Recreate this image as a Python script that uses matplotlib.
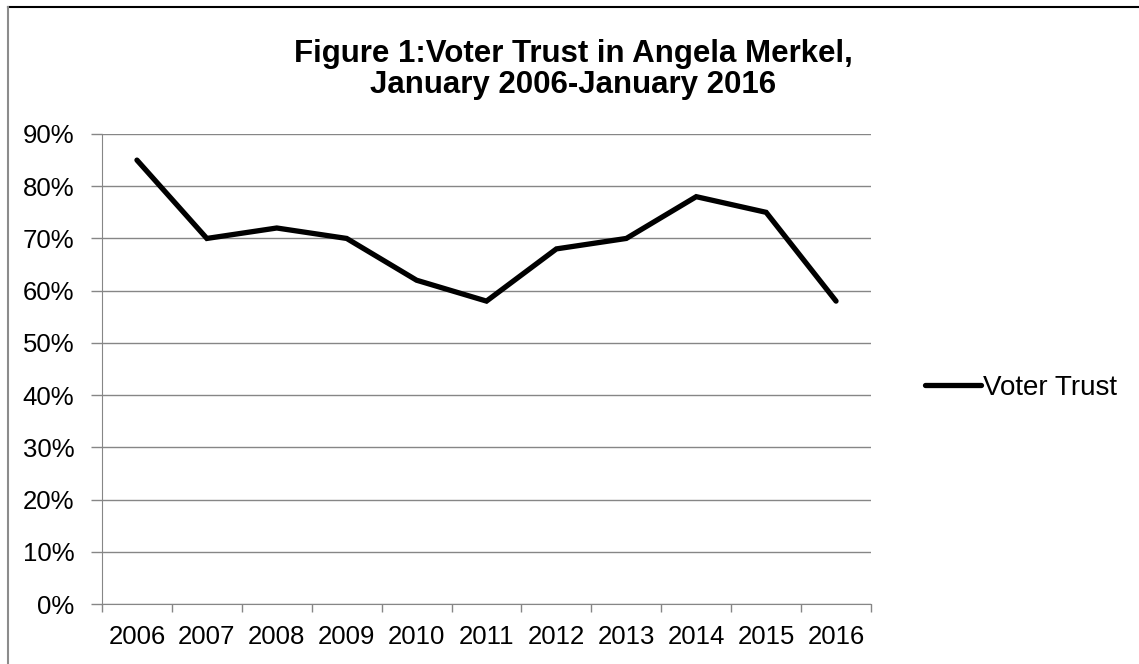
import matplotlib
matplotlib.use("Agg")
import matplotlib.pyplot as plt
from matplotlib.ticker import FixedLocator, FuncFormatter
from matplotlib.lines import Line2D

years = ["2006", "2007", "2008", "2009", "2010", "2011", "2012", "2013", "2014", "2015", "2016"]
trust = [0.85, 0.70, 0.72, 0.70, 0.62, 0.58, 0.68, 0.70, 0.78, 0.75, 0.58]
y_ticks = [0.0, 0.1, 0.2, 0.3, 0.4, 0.5, 0.6, 0.7, 0.8, 0.9]
title_lines = ["Figure 1:Voter Trust in Angela Merkel,", "January 2006-January 2016"]
series_name = "Voter Trust"

plt.rcParams['font.family'] = ['Liberation Sans', 'DejaVu Sans']

W, H = 1139, 664
fig = plt.figure(figsize=(W / 100, H / 100), dpi=100)
fig.patch.set_facecolor("white")

# outer chart frame (top and left visible)
fig.add_artist(Line2D([8 / W, 1.0], [1 - 6.5 / H, 1 - 6.5 / H], transform=fig.transFigure,
                      color="black", lw=1.5))
fig.add_artist(Line2D([8 / W, 8 / W], [0, 1 - 6.5 / H], transform=fig.transFigure,
                      color="#8c8c8c", lw=1.5))

left, right, top, bottom = 102, 871, 134, 604
ax = fig.add_axes([left / W, 1 - bottom / H, (right - left) / W, (bottom - top) / H])

x = list(range(len(years)))
ax.plot(x, trust, color="black", lw=3.8, solid_joinstyle="miter", solid_capstyle="round",
        label=series_name, zorder=3)

ax.set_xlim(-0.5, len(years) - 0.5)
ax.set_ylim(0, 0.9)

ax.yaxis.set_major_locator(FixedLocator(y_ticks))
ax.yaxis.set_major_formatter(FuncFormatter(lambda v, p: f"{v * 100:.0f}%"))
ax.grid(axis="y", color="#868686", lw=1.0)
ax.set_axisbelow(True)

ax.set_xticks(x)
ax.set_xticklabels(years)
ax.set_xticks([i - 0.5 for i in range(len(years) + 1)], minor=True)
ax.tick_params(axis="x", which="major", length=0, pad=15, labelsize=18.5)
ax.tick_params(axis="x", which="minor", length=6, width=1, color="#868686", direction="out")
ax.tick_params(axis="y", length=8, width=1, color="#868686", labelsize=18.5, pad=12)

for s in ["top", "right"]:
    ax.spines[s].set_visible(False)
ax.spines["left"].set_color("#868686")
ax.spines["bottom"].set_color("#868686")

for i, (line, base) in enumerate(zip(title_lines, [62, 93])):
    fig.text(573 / W, 1 - base / H, line, ha="center", va="baseline", fontsize=22.5,
             fontweight="bold")

leg = fig.legend(handles=ax.get_lines(), loc="center left",
                 bbox_to_anchor=(900 / W, 1 - 388 / H), frameon=False,
                 fontsize=20, handlelength=2.0, handletextpad=0.1)

fig.savefig("out.png", dpi=100, facecolor="white")
